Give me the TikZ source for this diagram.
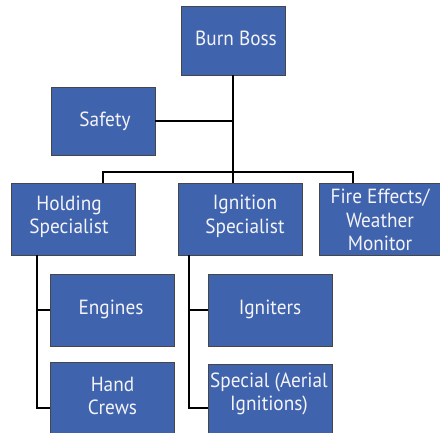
\documentclass[tikz,border=0pt]{standalone}
\usepackage{fontspec}
\setmainfont{PT Sans}[FakeStretch=0.94]
\definecolor{boxblue}{RGB}{64,99,174}
\definecolor{boxedge}{RGB}{70,70,70}
\definecolor{txtwhite}{RGB}{244,244,248}
\begin{document}
\begin{tikzpicture}[x=1pt,y=-1pt,
  box/.style={draw=boxedge,line width=0.9pt,fill=boxblue,inner sep=0pt},
  lbl/.style={text=txtwhite,align=center,inner sep=0pt,anchor=base,font=\fontsize{20.5}{23.8}\selectfont},
  link/.style={draw=black,line width=1.5pt}]
\useasboundingbox (0,0) rectangle (440,433);
\clip (0,0) rectangle (440,433);
% boxes
\node[box,minimum width=104pt,minimum height=69pt] (boss) at (233,40.5) {};
\node[box,minimum width=104pt,minimum height=68pt] (safety) at (103,121) {};
\node[box,minimum width=124pt,minimum height=72pt] (hold) at (73,219) {};
\node[box,minimum width=124pt,minimum height=72pt] (ign) at (240,219) {};
\node[box,minimum width=121pt,minimum height=72pt] (fire) at (379.5,219) {};
\node[box,minimum width=124pt,minimum height=72pt] (eng) at (112,310) {};
\node[box,minimum width=124pt,minimum height=88pt] (hand) at (112,406) {};
\node[box,minimum width=124pt,minimum height=72pt] (igniters) at (270,310) {};
\node[box,minimum width=124pt,minimum height=86pt] (special) at (270,407) {};
% labels (anchored at the baseline of the last line)
\node[lbl] (tboss) at (236,46) {Burn Boss};
\node[lbl] (tsafety) at (105,126.7) {Safety};
\node[lbl] (thold) at (69,234) {Holding\\Specialist};
\node[lbl] (tign) at (245,233.5) {Ignition\\Specialist};
\node[lbl] (tfire) at (380,251) {Fire Effects/\\Weather\\Monitor};
\node[lbl] (teng) at (111,315) {Engines};
\node[lbl] (thand) at (112.5,415) {Hand\\Crews};
\node[lbl] (tigniters) at (270,315) {Igniters};
\node[lbl] (tspecial) at (269,411) {Special (Aerial\\Ignitions)};
% connector points
\coordinate (bus) at (233,172);
\coordinate (sj) at (233,121);
\coordinate (busL) at (103,172);
\coordinate (busR) at (353,172);
\coordinate (hEnd) at (37,408);
\coordinate (iEnd) at (189,408);
% connectors
\draw[link] (boss.south) -- (bus);
\draw[link] (safety.east) -- (sj);
\draw[link] (busL |- hold.north) -- (busL) -- (busR) -- (busR |- fire.north);
\draw[link] (bus) -- (ign.north -| bus);
\draw[link] (hold.south -| hEnd) -- (hEnd) -- (hEnd -| hand.west);
\draw[link] (hEnd |- eng.west) -- (eng.west);
\draw[link] (ign.south -| iEnd) -- (iEnd) -- (iEnd -| special.west);
\draw[link] (iEnd |- igniters.west) -- (igniters.west);
\end{tikzpicture}
\end{document}
